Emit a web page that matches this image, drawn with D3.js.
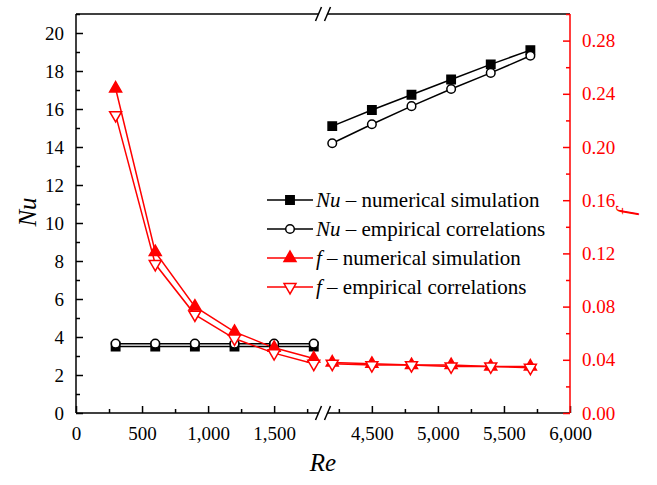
<!DOCTYPE html>
<html>
<head>
<meta charset="utf-8">
<script src="https://cdn.jsdelivr.net/npm/d3@7"></script>
<style>
  body { margin: 0; background: #fff; }
</style>
</head>
<body>
<svg id="root" width="657" height="485" font-family="Liberation Serif, DejaVu Serif, serif"></svg>
<script>
//Chart data
const reValues = [300, 600, 900, 1200, 1500, 1800, 4200, 4500, 4800, 5100, 5400, 5700];
const nuSimulation = [3.5, 3.5, 3.5, 3.5, 3.5, 3.5, 15.1, 15.95, 16.75, 17.55, 18.35, 19.1];
const nuEmpirical = [3.65, 3.65, 3.65, 3.65, 3.65, 3.65, 14.2, 15.2, 16.15, 17.05, 17.9, 18.8];
const fSimulation = [0.244, 0.121, 0.080, 0.061, 0.049, 0.041, 0.038, 0.037, 0.036, 0.036, 0.035, 0.035];
const fEmpirical = [0.224, 0.112, 0.074, 0.056, 0.045, 0.037, 0.037, 0.036, 0.036, 0.035, 0.035, 0.034];

const xTicksLeft = [0, 500, 1000, 1500];
const xTicksRight = [4500, 5000, 5500, 6000];
const nuTicks = [0, 2, 4, 6, 8, 10, 12, 14, 16, 18, 20];
const fTicks = [0, 0.04, 0.08, 0.12, 0.16, 0.20, 0.24, 0.28];

const legendLabels = [
    {sym: "Nu", text: " \u2013 numerical simulation"},
    {sym: "Nu", text: " \u2013 empirical correlations"},
    {sym: "f", text: " \u2013 numerical simulation"},
    {sym: "f", text: " \u2013 empirical correlations"}
];

//Layout
const plotLeft = 76, plotRight = 570, plotTop = 14, plotBottom = 413;
const breakX = 323;
const red = "#ff0000";
const serif = "Liberation Serif, DejaVu Serif, serif";

const svg = d3.select("#root");

//Broken x axis: two linear scales
const xLeft = d3.scaleLinear().domain([0, 1870]).range([plotLeft, breakX]);
const xRight = d3.scaleLinear().domain([4130, 6000]).range([breakX, plotRight]);
const x = v => v < 3000 ? xLeft(v) : xRight(v);

const yNu = d3.scaleLinear().domain([0, 21]).range([plotBottom, plotTop]);
const yF = d3.scaleLinear().domain([0, 0.3]).range([plotBottom, plotTop]);

//Top frame line
svg.append("line").attr("x1", plotLeft).attr("x2", plotRight).attr("y1", plotTop).attr("y2", plotTop)
    .attr("stroke", "#000").attr("stroke-width", 1.5);

//Bottom axis segments
const axisLeftSeg = svg.append("g").attr("transform", `translate(0,${plotBottom})`)
    .call(d3.axisBottom(xLeft).tickValues(xTicksLeft).tickFormat(d3.format(",")).tickSize(-7).tickPadding(14));
const axisLeftMinor = svg.append("g").attr("transform", `translate(0,${plotBottom})`)
    .call(d3.axisBottom(xLeft).tickValues(xTicksLeft.map(d => d + 250)).tickFormat("").tickSize(-4));
const axisRightSeg = svg.append("g").attr("transform", `translate(0,${plotBottom})`)
    .call(d3.axisBottom(xRight).tickValues(xTicksRight).tickFormat(d3.format(",")).tickSize(-7).tickPadding(14));
const axisRightMinor = svg.append("g").attr("transform", `translate(0,${plotBottom})`)
    .call(d3.axisBottom(xRight).tickValues(xTicksRight.map(d => d - 250)).tickFormat("").tickSize(-4));

//Left axis
const axisNu = svg.append("g").attr("transform", `translate(${plotLeft},0)`)
    .call(d3.axisLeft(yNu).tickValues(nuTicks).tickSize(-7).tickPadding(12));
const axisNuMinor = svg.append("g").attr("transform", `translate(${plotLeft},0)`)
    .call(d3.axisLeft(yNu).tickValues(nuTicks.map(d => d + 1)).tickFormat("").tickSize(-4));

//Right axis (red)
const axisF = svg.append("g").attr("transform", `translate(${plotRight},0)`)
    .call(d3.axisRight(yF).tickValues(fTicks).tickFormat(d3.format(".2f")).tickSize(-7).tickPadding(12));
const axisFMinor = svg.append("g").attr("transform", `translate(${plotRight},0)`)
    .call(d3.axisRight(yF).tickValues(fTicks.map(d => d + 0.02)).tickFormat("").tickSize(-4));

const allAxes = [axisLeftSeg, axisLeftMinor, axisRightSeg, axisRightMinor, axisNu, axisNuMinor, axisF, axisFMinor];
allAxes.forEach(g => {
    const c = (g === axisF || g === axisFMinor) ? red : "#000";
    g.attr("font-family", serif).attr("font-size", 19);
    g.select(".domain").attr("stroke", c).attr("stroke-width", 1.5);
    g.selectAll(".tick line").attr("stroke", c).attr("stroke-width", 1.5);
    g.selectAll("text").attr("fill", c);
});
//Plain domain lines, no end caps
axisLeftSeg.select(".domain").attr("d", `M${plotLeft},0H${breakX}`);
axisRightSeg.select(".domain").attr("d", `M${breakX},0H${plotRight}`);
axisNu.select(".domain").attr("d", `M0,${plotTop}V${plotBottom}`);
axisF.select(".domain").attr("d", `M0,${plotTop}V${plotBottom}`);
[axisLeftMinor, axisRightMinor, axisNuMinor, axisFMinor].forEach(g => g.select(".domain").remove());

//Axis break marks on top and bottom
[plotTop, plotBottom].forEach(yy => {
    svg.append("rect").attr("x", breakX - 4).attr("y", yy - 3).attr("width", 8).attr("height", 6).attr("fill", "#fff");
    [-4.5, 4.5].forEach(dx => {
        svg.append("line")
            .attr("x1", breakX + dx - 3).attr("y1", yy + 7)
            .attr("x2", breakX + dx + 3).attr("y2", yy - 7)
            .attr("stroke", "#000").attr("stroke-width", 1.5);
    });
});

//Axis titles
svg.append("text").attr("x", breakX).attr("y", 471).attr("text-anchor", "middle")
    .attr("font-size", 25).attr("font-style", "italic").text("Re");
svg.append("text").attr("transform", "translate(36,212) rotate(-90)").attr("text-anchor", "middle")
    .attr("font-size", 25).attr("font-style", "italic").text("Nu");
svg.append("text").attr("transform", "translate(634,212) rotate(-90)").attr("text-anchor", "middle")
    .attr("fill", red).attr("font-size", 25).attr("font-style", "italic").text("f");

//Series definitions
const series = [
    {values: nuSimulation, y: yNu, color: "#000", shape: d3.symbolSquare, size: 70, fill: "#000"},
    {values: nuEmpirical, y: yNu, color: "#000", shape: d3.symbolCircle, size: 58, fill: "#fff"},
    {values: fSimulation, y: yF, color: red, shape: d3.symbolTriangle, size: 62, fill: red},
    {values: fEmpirical, y: yF, color: red, shape: d3.symbolTriangle, size: 62, fill: "#fff", down: true}
];

const line = d3.line().x(d => x(d.re)).y(d => d.yv);

series.forEach(s => {
    const pts = reValues.map((re, i) => ({re: re, yv: s.y(s.values[i])}));
    //lines don't cross the break
    [pts.filter(p => p.re < 3000), pts.filter(p => p.re > 3000)].forEach(seg => {
        svg.append("path").datum(seg).attr("d", line)
            .attr("fill", "none").attr("stroke", s.color).attr("stroke-width", 1.5);
    });
});
series.forEach(s => {
    svg.append("g").selectAll("path")
        .data(reValues.map((re, i) => ({re: re, yv: s.y(s.values[i])})))
        .enter().append("path")
        .attr("d", d3.symbol().type(s.shape).size(s.size))
        .attr("transform", d => `translate(${x(d.re)},${d.yv})${s.down ? " rotate(180)" : ""}`)
        .attr("fill", s.fill).attr("stroke", s.color).attr("stroke-width", 1.5);
});

//Legend
const legend = svg.append("g").attr("transform", "translate(267,200)");
legendLabels.forEach((lab, i) => {
    const s = series[i];
    const row = legend.append("g").attr("transform", `translate(0,${i * 29})`);
    row.append("line").attr("x1", 0).attr("x2", 46).attr("y1", 0).attr("y2", 0)
        .attr("stroke", s.color).attr("stroke-width", 1.5);
    row.append("path").attr("d", d3.symbol().type(s.shape).size(s.size))
        .attr("transform", `translate(23,0)${s.down ? " rotate(180)" : ""}`)
        .attr("fill", s.fill).attr("stroke", s.color).attr("stroke-width", 1.5);
    const t = row.append("text").attr("x", 49).attr("y", 7).attr("font-size", 21).attr("fill", "#000");
    t.append("tspan").attr("font-style", "italic").text(lab.sym);
    t.append("tspan").text(lab.text);
});
</script>
</body>
</html>
